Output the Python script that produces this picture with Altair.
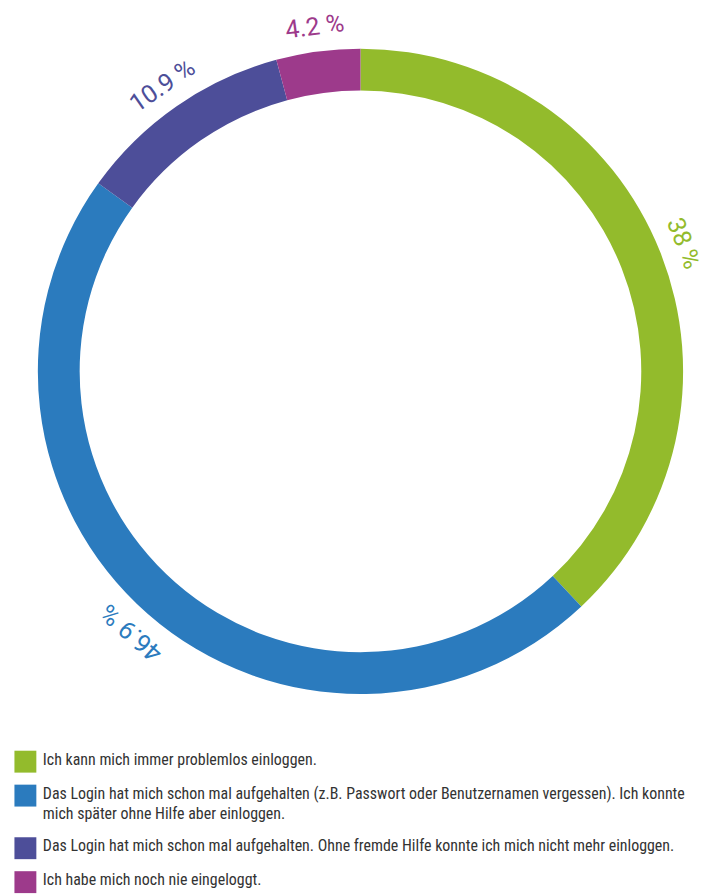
import altair as alt
import pandas as pd

categories = [
    "Ich kann mich immer problemlos einloggen.",
    "Das Login hat mich schon mal aufgehalten (z.B. Passwort oder Benutzernamen vergessen). Ich konnte\nmich später ohne Hilfe aber einloggen.",
    "Das Login hat mich schon mal aufgehalten. Ohne fremde Hilfe konnte ich mich nicht mehr einloggen.",
    "Ich habe mich noch nie eingeloggt.",
]
values = [38.0, 46.9, 10.9, 4.2]
labels = ["38 %", "46.9 %", "10.9 %", "4.2 %"]
colors = ["#93BB2C", "#2B7BBE", "#4D4E99", "#9D3A8B"]

total = sum(values)
cum = 0.0
rows = []
extra = 0
for i, (c, v, l, col) in enumerate(zip(categories, values, labels, colors)):
    mid = (cum + v / 2) / total * 360
    cum += v
    rows.append({"idx": i, "cat": c, "value": v, "label": l, "color": col,
                 "ang": mid, "slot": i + 0.55 * extra})
    extra += c.count("\n")
df = pd.DataFrame(rows)

color_scale = alt.Scale(domain=categories, range=colors)

base = alt.Chart(df).encode(
    theta=alt.Theta("value:Q", stack=True),
    order=alt.Order("idx:Q"),
    x=alt.value(362),
    y=alt.value(371),
)
ring = base.mark_arc(innerRadius=282, outerRadius=324).encode(
    color=alt.Color("cat:N", scale=color_scale, legend=None)
)
txt = base.mark_text(radius=349, font="Roboto", fontSize=25, align="center",
                     baseline="middle").encode(
    text="label:N",
    angle=alt.Angle("ang:Q", scale=None),
    color=alt.Color("cat:N", scale=color_scale, legend=None),
)
donut = alt.layer(ring, txt).properties(width=705, height=740)

leg_base = alt.Chart(df).encode(
    y=alt.Y("slot:Q", scale=alt.Scale(domain=[0, 3.55], range=[23, 144]), axis=None)
)
squares = leg_base.mark_square(size=484, opacity=1).encode(
    x=alt.value(25.5),
    color=alt.Color("cat:N", scale=color_scale, legend=None),
)
ltext = leg_base.mark_text(align="left", baseline="top", dy=-10, lineBreak="\n",
                           lineHeight=21, font="Liberation Sans Narrow, Roboto Condensed, Roboto",
                           fontSize=16, color="#333333").encode(
    x=alt.value(43),
    text="cat:N",
)
legend = alt.layer(squares, ltext).properties(width=705, height=154)

chart = alt.vconcat(donut, legend, spacing=0).properties(padding=0).configure_view(
    stroke=None).configure_concat(spacing=0)

chart.save("out.html", embed_options={"renderer": "svg", "actions": False})
